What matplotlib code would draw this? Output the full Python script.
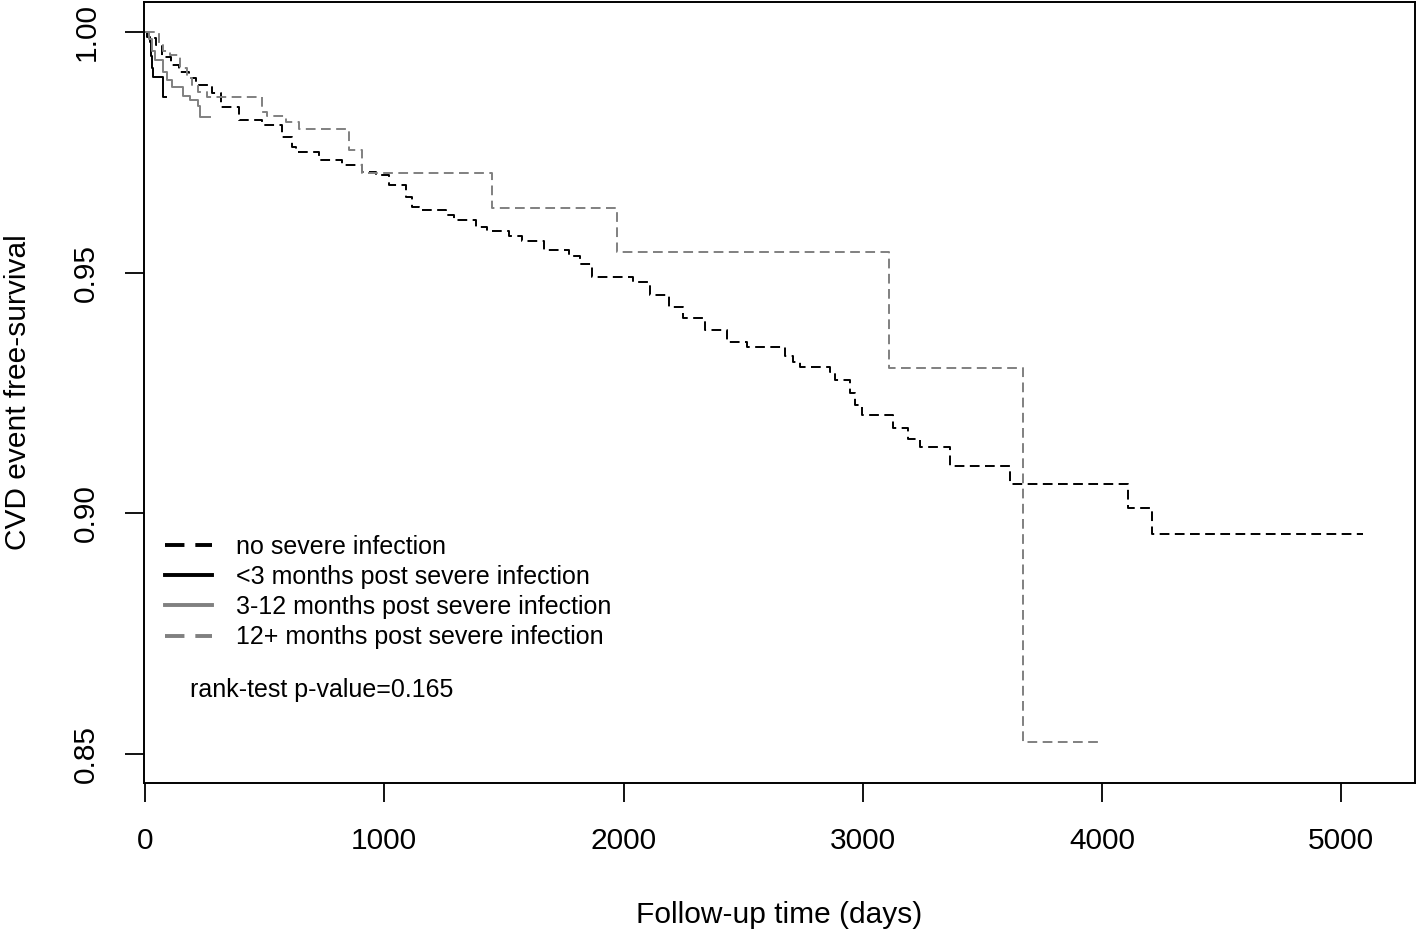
import matplotlib
matplotlib.use("Agg")
import matplotlib.pyplot as plt
from matplotlib.lines import Line2D

plt.rcParams['font.family'] = ['Liberation Sans', 'DejaVu Sans']

# ---- data ----
no_inf_t = [0, 17, 46, 71, 109, 142, 184, 213, 280, 318, 393, 490, 573, 615, 632,
            728, 824, 908, 967, 1021, 1092, 1117, 1146, 1259, 1293, 1385, 1431, 1523,
            1577, 1669, 1774, 1816, 1870, 2038, 2109, 2192, 2247, 2339, 2431, 2515,
            2674, 2707, 2736, 2862, 2883, 2946, 2967, 2996, 3126, 3188, 3238, 3364,
            3615, 4109, 4209, 5092]
no_inf_s = [1.0, 0.9988, 0.9973, 0.9948, 0.9931, 0.9917, 0.9904, 0.9890, 0.9873, 0.9844,
            0.9817, 0.9807, 0.9782, 0.9761, 0.9750, 0.9734, 0.9723, 0.9709, 0.9703, 0.9682,
            0.9657, 0.9636, 0.9630, 0.9619, 0.9609, 0.9594, 0.9586, 0.9576, 0.9565, 0.9547,
            0.9534, 0.9517, 0.9490, 0.9480, 0.9453, 0.9428, 0.9405, 0.9380, 0.9355, 0.9345,
            0.9326, 0.9314, 0.9303, 0.9293, 0.9276, 0.9249, 0.9224, 0.9205, 0.9178, 0.9155,
            0.9137, 0.9099, 0.9060, 0.9012, 0.8956, 0.8956]

lt3_t = [0, 8, 21, 25, 29, 35, 75, 88]
lt3_s = [1.0, 0.9990, 0.9980, 0.9950, 0.9925, 0.9907, 0.9865, 0.9865]

m3_12_t = [0, 17, 29, 42, 75, 92, 113, 159, 188, 222, 230, 272]
m3_12_s = [1.0, 0.9985, 0.9960, 0.9942, 0.9917, 0.9900, 0.9886, 0.9867, 0.9859, 0.9846,
           0.9823, 0.9823]

m12_t = [0, 59, 75, 105, 146, 176, 197, 222, 260, 490, 510, 590, 644, 854, 908,
         1452, 1971, 3109, 3669, 4004]
m12_s = [1.0, 0.9975, 0.9960, 0.9952, 0.9925, 0.9905, 0.9890, 0.9875, 0.9865, 0.9834,
         0.9825, 0.9813, 0.9799, 0.9755, 0.9707, 0.9634, 0.9542, 0.9301, 0.8524, 0.8524]

labels = ["no severe infection", "<3 months post severe infection",
          "3-12 months post severe infection", "12+ months post severe infection"]
x_ticks = [0, 1000, 2000, 3000, 4000, 5000]
y_ticks = [0.85, 0.90, 0.95, 1.00]
y_ticklabels = ["0.85", "0.90", "0.95", "1.00"]
p_text = "rank-test p-value=0.165"

GRAY = '#808080'
LW = 1.4
DASH = (5.0, 2.8)

fig = plt.figure(figsize=(14.18, 9.35), dpi=100)
ax = fig.add_axes([0.1016, 0.1626, 0.8963, 0.8353])

series = [
    (no_inf_t, no_inf_s, 'black', True),
    (lt3_t, lt3_s, 'black', False),
    (m3_12_t, m3_12_s, GRAY, False),
    (m12_t, m12_s, GRAY, True),
]
handles = []
for (t, s, c, dashed), lab in zip(series, labels):
    ln, = ax.step(t, s, where='post', color=c, lw=LW)
    if dashed:
        ln.set_dashes(DASH)
    h = Line2D([], [], color=c, lw=LW * 2)
    if dashed:
        h.set_dashes(DASH)
    handles.append(h)

ax.set_xlim(-4, 5308)
ax.set_ylim(0.84397, 1.00623)

ax.set_xticks(x_ticks)
ax.set_xticklabels([str(v) for v in x_ticks])
ax.set_yticks(y_ticks)
ax.set_yticklabels(y_ticklabels, rotation=90, va='center')
ax.tick_params(axis='both', direction='out', length=13.5, width=1.3,
               labelsize=21.5, pad=18, colors='black')
for sp in ax.spines.values():
    sp.set_linewidth(1.4)

ax.set_xlabel("Follow-up time (days)", fontsize=21.5)
ax.set_ylabel("CVD event free-survival", fontsize=21.5)
ax.xaxis.label.set_va('center')
ax.yaxis.label.set_va('center')
ax.xaxis.set_label_coords(0.5, -0.1695)
ax.yaxis.set_label_coords(-0.0991, 0.5)

leg = ax.legend(handles, labels, loc='upper left', bbox_to_anchor=(0.0165, 0.3176),
                frameon=False, fontsize=18, borderpad=0, borderaxespad=0,
                handlelength=1.88, handletextpad=0.96, labelspacing=0.245)

ax.text(188, 0.8633, p_text, fontsize=18, ha='left', va='center')

fig.savefig("out.png", dpi=100)
